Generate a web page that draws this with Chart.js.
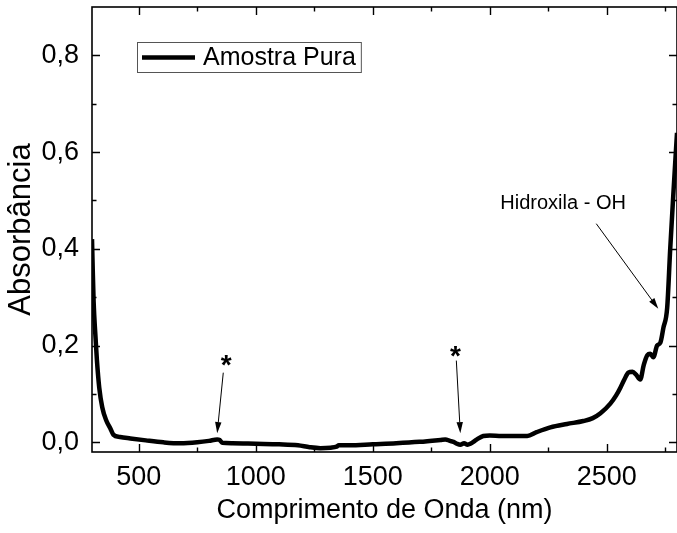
<!DOCTYPE html>
<html>
<head>
<meta charset="utf-8">
<script src="https://cdn.jsdelivr.net/npm/chart.js@4.4.0/dist/chart.umd.min.js"></script>
<style>
  html, body { margin: 0; padding: 0; background: #fff; }
</style>
</head>
<body>
<canvas id="chart" width="677" height="533"></canvas>
<script>
// spectrum
const wavelength = [300, 303, 307, 314, 321, 331, 344, 361, 378, 391, 420, 464, 530, 605, 677, 750, 800, 835, 845, 857, 900,
  1000, 1100, 1180, 1230, 1276, 1320, 1345, 1355, 1400, 1500, 1600, 1700, 1790, 1810, 1830, 1845, 1860, 1874, 1890, 1905,
  1917, 1945, 1972, 2000, 2050, 2100, 2160, 2200, 2259, 2330, 2400, 2440, 2473, 2515, 2540, 2558, 2575, 2592, 2610, 2625,
  2643, 2658, 2673, 2686, 2699, 2715, 2729, 2742, 2758, 2771, 2784, 2800];
const absorbance = [0.42, 0.36, 0.29, 0.225, 0.17, 0.113, 0.072, 0.045, 0.029, 0.016, 0.011, 0.008, 0.004, 0.0, -0.002, 0.0, 0.003, 0.006, 0.005, -0.001, -0.002,
  -0.003, -0.004, -0.006, -0.01, -0.012, -0.011, -0.009, -0.006, -0.006, -0.004, -0.002, 0.001, 0.005, 0.006, 0.003, 0.001, -0.003, -0.005, -0.002, -0.005,
  -0.003, 0.006, 0.013, 0.014, 0.013, 0.013, 0.013, 0.021, 0.031, 0.038, 0.044, 0.05, 0.06, 0.08, 0.097, 0.113, 0.13, 0.144, 0.146, 0.14,
  0.13, 0.16, 0.18, 0.183, 0.176, 0.2, 0.206, 0.237, 0.278, 0.40, 0.51, 0.64];

const xMajor = [500, 1000, 1500, 2000, 2500];
const xMinor = [750, 1250, 1750, 2250, 2750];
const yMajor = [0, 0.2, 0.4, 0.6, 0.8];
const yMinor = [0.1, 0.3, 0.5, 0.7];

const seriesName = "Amostra Pura";
const FONT = "Arial, 'Liberation Sans', sans-serif";

// arrows: label at "at", arrow from "from" to "to", all in data units
const notes = [
  { text: "*", at: [874, 0.169], from: [861, 0.144], to: [835, 0.019], size: 28, bold: true },
  { text: "*", at: [1853, 0.188], from: [1857, 0.169], to: [1874, 0.019], size: 28, bold: true },
  { text: "Hidroxila - OH", at: [2045, 0.493], from: [2455, 0.452], to: [2720, 0.276], size: 20, bold: false, left: true }
];

function arrow(ctx, x1, y1, x2, y2) {
  const a = Math.atan2(y2 - y1, x2 - x1);
  const len = 11, half = 3.2;
  ctx.beginPath();
  ctx.moveTo(x1, y1);
  ctx.lineTo(x2 - len * Math.cos(a), y2 - len * Math.sin(a));
  ctx.stroke();
  ctx.beginPath();
  ctx.moveTo(x2, y2);
  ctx.lineTo(x2 - len * Math.cos(a) + half * Math.sin(a), y2 - len * Math.sin(a) - half * Math.cos(a));
  ctx.lineTo(x2 - len * Math.cos(a) - half * Math.sin(a), y2 - len * Math.sin(a) + half * Math.cos(a));
  ctx.closePath();
  ctx.fill();
}

const framePlugin = {
  id: "frame",
  afterDraw(chart) {
    const { ctx, chartArea: a, scales: { x, y } } = chart;
    ctx.save();
    ctx.strokeStyle = "#000";
    ctx.fillStyle = "#000";
    ctx.lineWidth = 1.6;
    ctx.strokeRect(a.left, a.top, a.right - a.left, a.bottom - a.top);

    // inward ticks on all four sides
    ctx.lineWidth = 1.4;
    ctx.beginPath();
    const xt = xMajor.map(v => [v, 8]).concat(xMinor.map(v => [v, 4.5]));
    xt.forEach(([v, l]) => {
      const px = Math.round(x.getPixelForValue(v)) + 0.5;
      ctx.moveTo(px, a.bottom); ctx.lineTo(px, a.bottom - l);
      ctx.moveTo(px, a.top); ctx.lineTo(px, a.top + l);
    });
    const yt = yMajor.map(v => [v, 8]).concat(yMinor.map(v => [v, 4.5]));
    yt.forEach(([v, l]) => {
      const py = Math.round(y.getPixelForValue(v)) + 0.5;
      ctx.moveTo(a.left, py); ctx.lineTo(a.left + l, py);
      ctx.moveTo(a.right, py); ctx.lineTo(a.right - l, py);
    });
    ctx.stroke();

    // legend box
    const ds = chart.data.datasets[0];
    ctx.font = "25px " + FONT;
    const bx = a.left + 45, by = a.top + 35, bh = 30;
    const tw = ctx.measureText(ds.label).width;
    ctx.lineWidth = 1;
    ctx.strokeStyle = "#555";
    ctx.strokeRect(bx + 0.5, by + 0.5, 66 + tw + 5, bh);
    ctx.strokeStyle = ds.borderColor;
    ctx.lineWidth = ds.borderWidth;
    ctx.beginPath();
    ctx.moveTo(bx + 5, by + bh / 2 + 0.5);
    ctx.lineTo(bx + 58, by + bh / 2 + 0.5);
    ctx.stroke();
    ctx.textBaseline = "middle";
    ctx.textAlign = "left";
    ctx.fillText(ds.label, bx + 66, by + bh / 2 + 1);

    // annotations
    ctx.strokeStyle = "#000";
    ctx.lineWidth = 1;
    notes.forEach(n => {
      ctx.font = (n.bold ? "bold " : "") + n.size + "px " + FONT;
      ctx.textAlign = n.left ? "left" : "center";
      ctx.textBaseline = "middle";
      const tx = x.getPixelForValue(n.at[0]), ty = y.getPixelForValue(n.at[1]);
      ctx.fillText(n.text, tx, n.bold ? ty + 6 : ty);
      arrow(ctx, x.getPixelForValue(n.from[0]), y.getPixelForValue(n.from[1]),
        x.getPixelForValue(n.to[0]), y.getPixelForValue(n.to[1]));
    });
    ctx.restore();
  }
};

const tickFont = { family: FONT, size: 27 };

new Chart(document.getElementById("chart"), {
  type: "line",
  data: {
    datasets: [{
      label: seriesName,
      data: wavelength.map((w, i) => ({ x: w, y: absorbance[i] })),
      borderColor: "#000",
      borderWidth: 4.5,
      pointRadius: 0,
      cubicInterpolationMode: "monotone",
      fill: false
    }]
  },
  options: {
    responsive: false,
    animation: false,
    layout: { padding: { top: 7, right: 0, left: 0, bottom: 0 } },
    plugins: { legend: { display: false }, tooltip: { enabled: false } },
    scales: {
      x: {
        type: "linear",
        min: 300,
        max: 2800,
        afterBuildTicks: s => { s.ticks = xMajor.map(v => ({ value: v })); },
        afterFit: s => { s.height = 81; s.paddingLeft = 0; s.paddingRight = 0; },
        grid: { display: false, drawTicks: false },
        border: { display: false },
        ticks: { color: "#000", font: tickFont, padding: 9, maxRotation: 0, callback: v => String(v) },
        title: { display: true, text: "Comprimento de Onda (nm)", color: "#000", font: { family: FONT, size: 27 }, padding: { top: 0, bottom: 6 } }
      },
      y: {
        type: "linear",
        min: -0.02,
        max: 0.9,
        afterBuildTicks: s => { s.ticks = yMajor.map(v => ({ value: v })); },
        afterFit: s => { s.width = 92; s.paddingTop = 0; s.paddingBottom = 0; },
        grid: { display: false, drawTicks: false },
        border: { display: false },
        ticks: { color: "#000", font: tickFont, padding: 13, callback: v => v.toFixed(1).replace(".", ",") },
        title: { display: true, text: "Absorbância", color: "#000", font: { family: FONT, size: 31 }, padding: { top: 3, bottom: 0 } }
      }
    }
  },
  plugins: [framePlugin]
});
</script>
</body>
</html>
